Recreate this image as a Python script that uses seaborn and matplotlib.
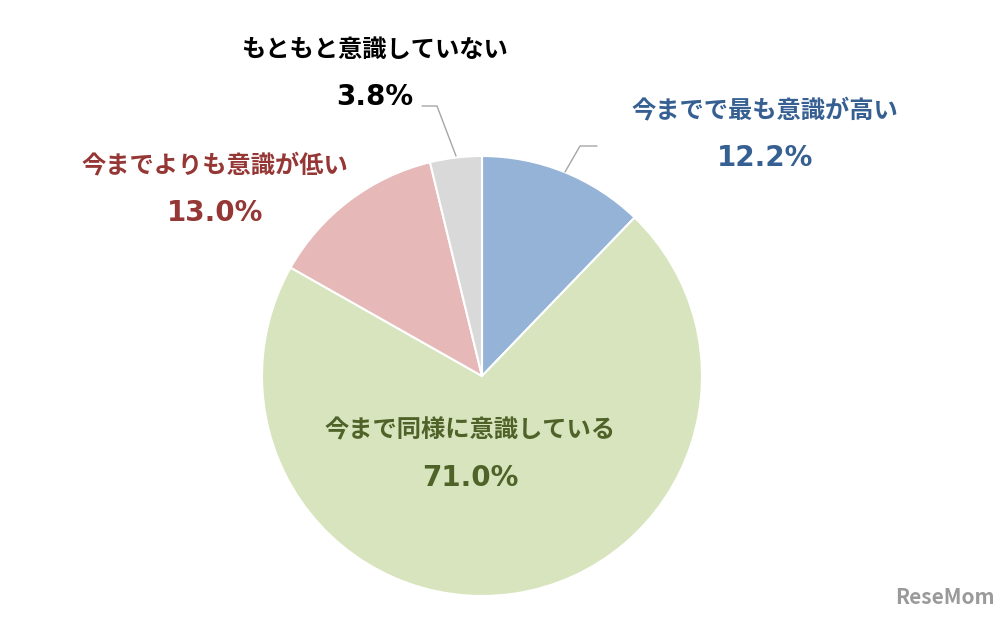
import matplotlib
matplotlib.use("Agg")
import matplotlib.pyplot as plt
import seaborn as sns

sns.set_theme(style="white")
plt.rcParams['font.family'] = ['Noto Sans CJK JP', 'DejaVu Sans']

labels = ["今までで最も意識が高い", "今まで同様に意識している", "今までよりも意識が低い", "もともと意識していない"]
values = [12.2, 71.0, 13.0, 3.8]
colors = ["#95B3D7", "#D7E4BD", "#E6B9B8", "#D9D9D9"]
text_colors = ["#376092", "#4F6228", "#953735", "#000000"]
label_pos = [(765, 110, 158), (470, 430, 478), (215, 165, 213), (375, 50, 97)]

fig = plt.figure(figsize=(10.08, 6.18), dpi=100)
ax = fig.add_axes([0, 0, 1, 1])
ax.pie(values, colors=colors, startangle=90, counterclock=False, radius=220,
       center=(482, 618 - 376), wedgeprops=dict(edgecolor="white", linewidth=1.5))
ax.set_xlim(0, 1008)
ax.set_ylim(0, 618)
ax.set_aspect("equal")
ax.axis("off")

for lab, v, c, (x, y1, y2) in zip(labels, values, text_colors, label_pos):
    ax.text(x, 618 - y1, lab, ha="center", va="center", color=c,
            fontsize=17.5, fontweight="bold")
    ax.text(x, 618 - y2, f"{v:.1f}%", ha="center", va="center", color=c,
            fontsize=20, fontweight="bold", family=["DejaVu Sans"])

ax.plot([565, 580, 597], [618 - 172, 618 - 146, 618 - 146], color="#A6A6A6", lw=1)
ax.plot([456, 437, 422], [618 - 156, 618 - 106, 618 - 106], color="#A6A6A6", lw=1)

ax.text(945, 618 - 598, "ReseMom", ha="center", va="center", color="#9A9A9A",
        fontsize=15, fontweight="bold")

fig.savefig("out.png", dpi=100)
